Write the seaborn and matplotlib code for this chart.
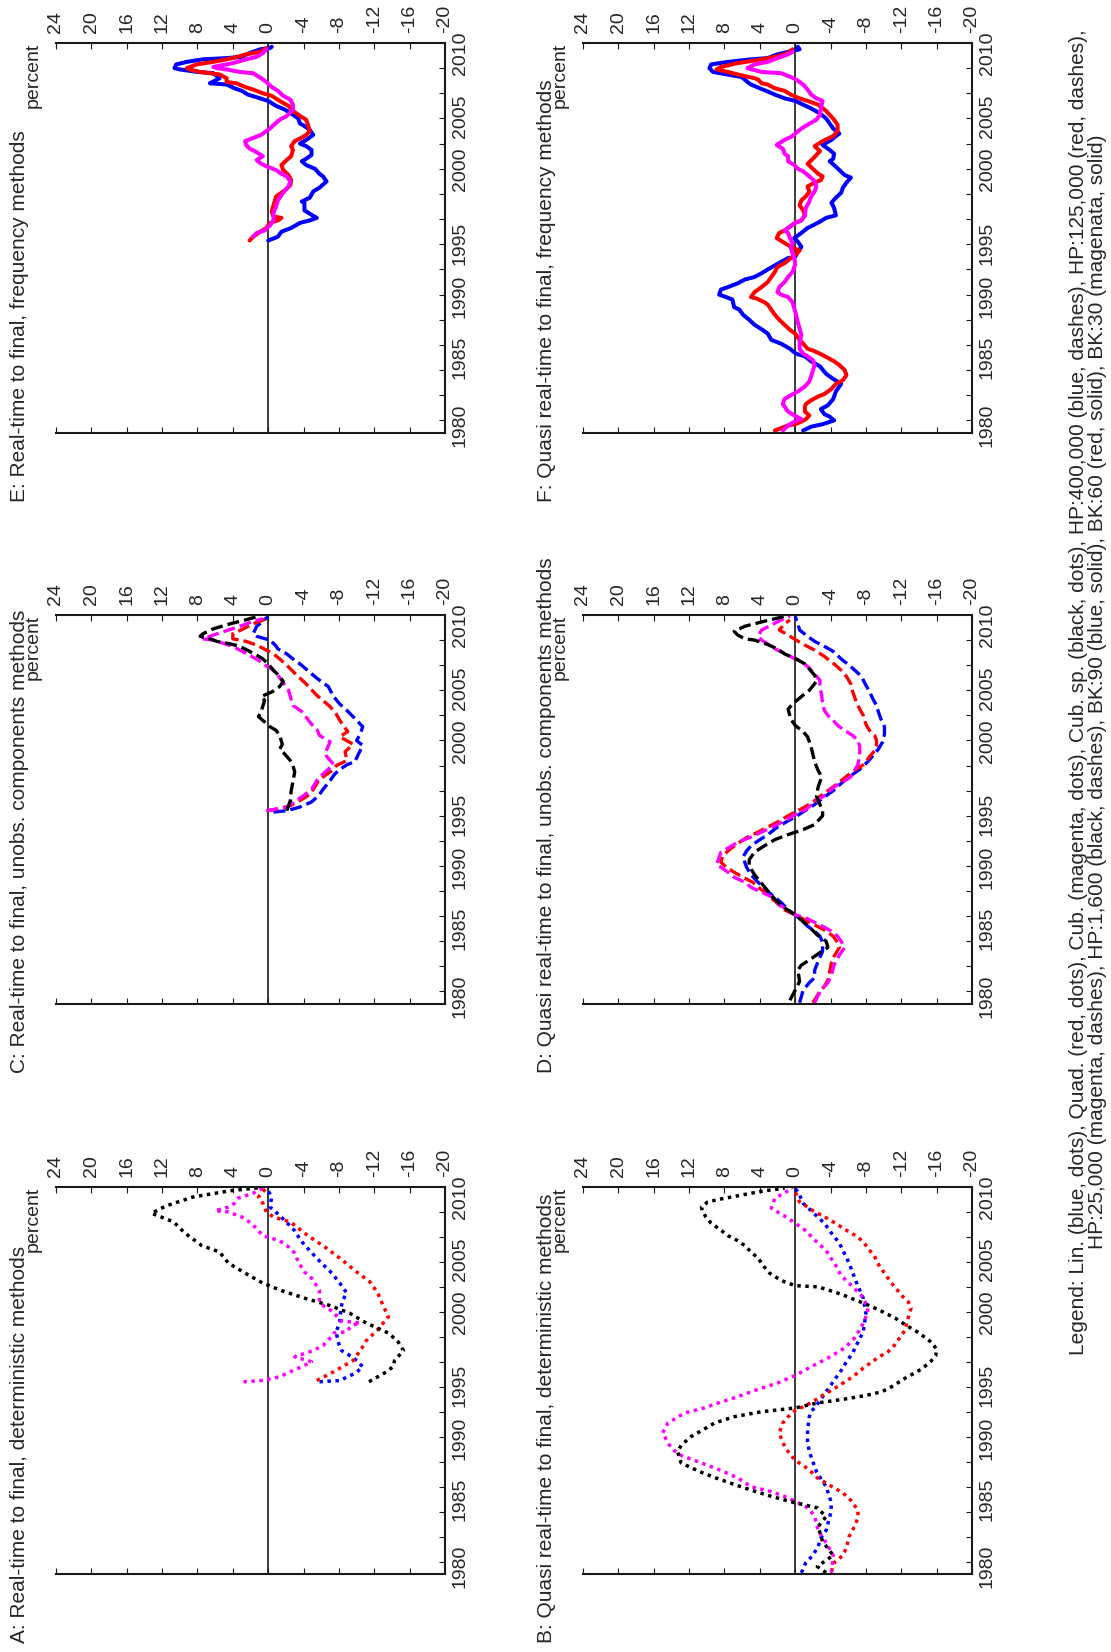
import numpy as np
import pandas as pd
import seaborn as sns
import matplotlib.pyplot as plt

# ---- data: time coordinate (years) and percent deviation ----
# A: real-time to final, deterministic
a_lin_t = [1994.4, 1994.5, 1995.1, 1995.6, 1996.3, 1996.9, 1997.6, 1998.4, 1999.2, 2000.1, 2000.9, 2001.5, 2002.3, 2003.1, 2004.0, 2004.9, 2005.7, 2006.5, 2007.3, 2007.9, 2008.4, 2009.2, 2009.7]
a_lin_v = [-5.8, -8.1, -9.9, -10.7, -9.7, -8.3, -7.9, -7.7, -8.1, -8.2, -8.4, -8.9, -8.1, -7.2, -5.9, -4.7, -3.7, -3.0, -1.9, -1.0, -0.2, -0.4, 0.0]
a_quad_t = [1994.5, 1995.2, 1996.1, 1997.1, 1997.7, 1998.5, 1999.6, 2000.5, 2001.5, 2002.4, 2003.2, 2004.3, 2005.2, 2006.1, 2007.2, 2007.6, 2008.0, 2008.7, 2009.2, 2009.95]
a_quad_v = [-5.5, -7.4, -9.6, -10.6, -11.1, -12.3, -13.6, -13.0, -12.4, -11.5, -10.0, -8.1, -6.4, -4.5, -2.5, -0.6, 0.2, 0.6, 1.1, 0.2]
a_cub_t = [1994.4, 1994.5, 1994.8, 1995.2, 1995.6, 1996.0, 1996.4, 1996.9, 1997.3, 1997.9, 1998.3, 1998.4, 1998.9, 1999.1, 1999.3, 1999.7, 2000.0, 2000.4, 2000.8, 2001.7, 2002.3, 2002.7, 2003.2, 2004.0, 2004.7, 2005.2, 2005.7, 2006.1, 2006.5, 2007.1, 2007.6, 2008.0, 2008.1, 2008.4, 2008.7, 2009.1, 2009.5, 2009.9]
a_cub_v = [2.8, 0.6, -1.3, -2.5, -3.8, -4.9, -3.0, -5.1, -6.2, -7.0, -7.4, -8.9, -9.4, -10.4, -8.1, -7.7, -7.4, -6.4, -5.8, -5.8, -5.3, -4.9, -4.1, -3.4, -3.0, -2.3, -1.3, 0.6, 1.1, 1.9, 3.0, 4.5, 6.0, 4.5, 3.8, 3.4, 1.7, 0.6]
a_cubsp_t = [1994.4, 1994.8, 1995.2, 1995.6, 1996.1, 1996.9, 1997.6, 1998.3, 1999.1, 1999.9, 2000.5, 2001.1, 2001.7, 2002.3, 2003.1, 2003.9, 2004.8, 2005.3, 2006.3, 2007.2, 2007.9, 2008.5, 2009.2, 2009.7, 2009.95]
a_cubsp_v = [-11.4, -12.4, -13.4, -14.1, -14.3, -15.3, -14.7, -13.6, -11.1, -9.2, -7.0, -4.1, -1.5, 0.6, 2.6, 4.5, 5.5, 7.5, 9.4, 10.7, 13.2, 11.5, 8.5, 4.3, 0.9]

# B: quasi real-time to final, deterministic
b_lin_t = [1979.1, 1979.9, 1980.5, 1981.2, 1981.9, 1982.5, 1984.1, 1984.9, 1986.0, 1987.2, 1988.0, 1988.8, 1989.6, 1990.5, 1991.6, 1992.0, 1992.5, 1993.2, 1994.0, 1994.7, 1995.3, 1996.0, 1996.7, 1997.3, 1998.4, 1999.9, 2001.1, 2002.4, 2003.9, 2005.5, 2006.4, 2007.1, 2007.7, 2008.1, 2008.7, 2009.5, 2009.9]
b_lin_v = [-0.7, -1.2, -2.0, -2.6, -2.9, -3.5, -4.1, -4.0, -3.5, -2.4, -2.0, -1.6, -1.4, -1.4, -1.6, -1.8, -2.4, -3.1, -3.9, -4.6, -5.2, -5.8, -6.5, -6.9, -7.7, -8.0, -7.7, -6.9, -6.1, -5.0, -4.0, -3.3, -2.4, -1.8, -0.9, -0.4, 0.0]
b_quad_t = [1979.2, 1979.9, 1980.5, 1981.1, 1982.0, 1982.8, 1983.5, 1984.1, 1984.9, 1985.5, 1985.9, 1986.7, 1987.2, 1987.7, 1988.1, 1988.8, 1989.5, 1990.3, 1991.1, 1991.6, 1992.1, 1992.5, 1992.9, 1993.3, 1994.1, 1994.9, 1995.5, 1996.4, 1996.8, 1997.3, 1997.9, 1998.5, 1999.3, 2000.3, 2000.8, 2001.2, 2001.7, 2002.3, 2003.1, 2003.7, 2004.4, 2005.5, 2006.0, 2006.4, 2006.8, 2007.2, 2007.7, 2008.0, 2008.4, 2008.8, 2009.6, 2009.9]
b_quad_v = [-4.1, -4.4, -5.4, -5.8, -6.1, -6.7, -7.1, -7.1, -6.3, -5.4, -4.4, -2.5, -1.8, -0.9, 0.0, 0.8, 1.4, 1.8, 1.4, 0.8, 0.0, -1.2, -2.2, -3.1, -5.0, -6.7, -7.7, -9.5, -10.5, -11.2, -11.8, -12.4, -12.7, -13.1, -12.8, -12.2, -11.6, -10.9, -10.1, -9.5, -9.0, -7.8, -7.1, -6.1, -5.2, -4.3, -3.1, -2.2, -1.4, -0.5, 0.0, 0.3]
b_cub_t = [1979.1, 1980.5, 1981.6, 1982.5, 1983.6, 1984.0, 1984.4, 1985.1, 1985.6, 1986.0, 1986.7, 1987.3, 1988.0, 1988.5, 1988.9, 1989.3, 1990.3, 1991.1, 1991.9, 1992.3, 1992.7, 1993.2, 1993.7, 1994.3, 1994.9, 1995.6, 1996.3, 1997.1, 1997.9, 1998.8, 1999.9, 2000.4, 2001.3, 2002.3, 2002.9, 2003.7, 2004.9, 2005.9, 2006.5, 2007.5, 2008.3, 2009.1, 2009.7]
b_cub_v = [-4.1, -4.3, -3.4, -2.6, -2.2, -1.8, -1.2, 0.8, 2.7, 5.0, 6.5, 8.4, 11.0, 12.9, 13.7, 14.2, 15.0, 14.4, 12.5, 10.3, 8.7, 6.5, 4.6, 2.0, 0.0, -1.8, -3.7, -5.6, -6.7, -7.5, -8.2, -8.2, -7.5, -6.1, -5.2, -4.6, -3.5, -2.0, -1.2, 0.8, 2.7, 2.3, 0.8]
b_cubsp_t = [1979.1, 1979.6, 1980.5, 1981.6, 1982.8, 1983.6, 1984.3, 1984.7, 1985.2, 1985.7, 1986.2, 1986.7, 1987.2, 1987.6, 1987.9, 1988.8, 1989.3, 1990.0, 1990.4, 1991.1, 1991.6, 1992.0, 1992.3, 1992.7, 1993.0, 1993.3, 1993.6, 1994.0, 1994.4, 1994.8, 1995.2, 1995.6, 1996.0, 1996.5, 1997.0, 1997.5, 1997.9, 1998.4, 1998.9, 1999.5, 2000.0, 2000.5, 2000.9, 2001.3, 2001.6, 2002.0, 2002.1, 2002.4, 2002.7, 2003.1, 2003.6, 2004.3, 2004.8, 2005.3, 2005.7, 2006.1, 2006.7, 2007.1, 2007.6, 2008.1, 2008.4, 2008.8, 2009.0, 2009.2, 2009.5, 2009.7, 2009.9]
b_cubsp_v = [-3.5, -2.5, -4.3, -3.1, -2.6, -3.5, -2.5, 0.0, 2.6, 4.9, 7.0, 9.0, 10.8, 12.0, 12.9, 13.3, 12.9, 11.8, 10.8, 9.1, 6.9, 3.8, 0.0, -2.5, -5.5, -8.0, -9.8, -10.9, -11.8, -12.7, -13.8, -14.6, -15.3, -15.9, -16.0, -15.5, -14.8, -13.8, -12.6, -11.3, -9.9, -8.4, -7.0, -5.6, -4.4, -2.6, 0.0, 1.2, 2.0, 2.9, 3.5, 4.2, 5.0, 5.7, 6.5, 7.6, 8.7, 9.5, 10.1, 10.5, 10.6, 9.9, 8.7, 7.2, 5.0, 3.4, 1.2]

# C: real-time to final, unobserved components (HP)
c_hp400_t = [1994.3, 1994.4, 1994.7, 1995.1, 1995.6, 1996.1, 1996.8, 1997.3, 1997.7, 1998.1, 1998.3, 1998.9, 1999.6, 2000.0, 2000.5, 2001.1, 2001.9, 2002.4, 2002.9, 2003.5, 2004.3, 2004.8, 2005.2, 2006.1, 2006.5, 2006.9, 2007.3, 2007.6, 2008.0, 2008.3, 2008.5, 2009.1, 2009.5, 2009.9]
c_hp400_v = [-0.6, -2.1, -3.6, -4.9, -5.7, -6.2, -7.0, -7.5, -8.1, -9.0, -9.8, -10.2, -10.7, -10.0, -10.4, -10.7, -9.6, -8.9, -8.1, -7.4, -6.8, -5.8, -5.1, -3.6, -2.8, -2.1, -1.1, -0.8, -0.2, 1.3, 1.7, 1.3, 0.6, 0.0]
c_hp125_t = [1994.4, 1994.5, 1994.8, 1995.3, 1995.7, 1996.1, 1996.8, 1997.2, 1997.6, 1998.0, 1998.4, 1999.1, 1999.7, 2000.3, 2000.7, 2001.6, 2002.1, 2002.7, 2003.6, 2004.5, 2005.5, 2006.0, 2006.5, 2006.9, 2007.2, 2007.6, 2007.9, 2008.1, 2008.5, 2008.9, 2009.3, 2009.7]
c_hp125_v = [0.2, -0.9, -2.5, -3.8, -4.7, -5.1, -5.7, -6.4, -7.2, -7.7, -8.9, -8.7, -9.6, -8.1, -9.0, -8.1, -7.7, -7.0, -5.5, -4.3, -2.8, -2.1, -1.3, -0.6, 0.2, 1.3, 2.5, 4.0, 4.0, 2.8, 1.7, 0.2]
c_hp25_t = [1994.4, 1994.7, 1995.6, 1996.1, 1996.8, 1997.2, 1998.1, 1998.9, 1999.9, 2000.4, 2000.9, 2001.3, 2002.3, 2002.8, 2004.0, 2005.2, 2005.7, 2006.1, 2006.4, 2007.2, 2007.5, 2008.0, 2008.1, 2008.5, 2009.1, 2009.5, 2009.7]
c_hp25_v = [0.2, -2.1, -4.0, -4.9, -5.5, -6.0, -7.4, -6.4, -7.0, -5.8, -5.5, -4.9, -3.8, -2.8, -2.3, -1.1, -0.4, 0.6, 1.1, 3.2, 4.0, 6.2, 7.4, 5.8, 3.2, 1.7, 0.6]
c_hp1600_t = [1994.4, 1995.2, 1996.0, 1996.7, 1997.5, 1998.0, 1998.4, 1998.9, 1999.3, 1999.7, 2000.4, 2000.8, 2001.1, 2001.6, 2001.9, 2002.3, 2003.2, 2003.5, 2003.9, 2004.3, 2004.7, 2005.1, 2005.6, 2006.1, 2006.5, 2006.8, 2007.1, 2007.5, 2007.7, 2007.9, 2008.1, 2008.3, 2008.5, 2008.9, 2009.3, 2009.6, 2009.9]
c_hp1600_v = [-2.1, -2.5, -2.6, -2.8, -3.0, -2.8, -2.5, -1.9, -1.3, -1.6, -1.3, -0.9, -0.2, 0.6, 1.1, 0.8, 0.4, 0.8, -0.5, -1.3, -1.7, -1.3, -0.6, 0.0, 0.6, 1.3, 2.1, 3.2, 4.3, 5.8, 6.6, 7.7, 7.4, 6.2, 4.3, 2.6, 1.1]

# D: quasi real-time to final, unobserved components (HP)
d_hp400_t = [1979.1, 1980.1, 1980.7, 1981.1, 1981.7, 1982.4, 1983.2, 1983.9, 1984.4, 1984.8, 1985.2, 1985.7, 1986.1, 1986.5, 1987.1, 1987.6, 1988.1, 1988.7, 1989.3, 1989.9, 1990.7, 1991.2, 1991.6, 1992.0, 1992.5, 1993.1, 1993.6, 1993.9, 1994.4, 1994.9, 1995.5, 1996.0, 1996.7, 1997.2, 1997.7, 1998.3, 1998.8, 1999.3, 1999.9, 2000.5, 2001.1, 2001.7, 2002.3, 2002.8, 2003.3, 2003.9, 2004.4, 2005.1, 2005.5, 2006.0, 2006.5, 2007.1, 2007.5, 2007.9, 2008.3, 2008.8, 2009.3, 2009.9]
d_hp400_v = [-0.5, -0.9, -1.6, -2.2, -2.2, -2.6, -3.1, -3.1, -2.8, -2.2, -1.4, -0.7, 0.0, 0.8, 1.6, 2.5, 3.3, 4.2, 5.0, 5.5, 5.9, 5.5, 5.0, 4.2, 3.1, 2.0, 0.8, 0.0, -1.1, -2.2, -3.3, -4.3, -5.4, -6.3, -7.3, -8.2, -8.8, -9.4, -9.9, -10.1, -10.1, -9.7, -9.4, -9.2, -8.8, -8.4, -8.0, -7.5, -6.9, -6.1, -5.2, -4.3, -3.3, -2.2, -1.4, -0.5, -0.3, 0.0]
d_hp125_t = [1979.1, 1980.0, 1980.4, 1980.9, 1981.6, 1982.3, 1982.8, 1983.5, 1983.9, 1984.4, 1984.9, 1985.3, 1985.7, 1986.1, 1986.5, 1987.2, 1987.7, 1988.1, 1988.7, 1989.1, 1989.5, 1989.9, 1990.3, 1990.8, 1991.2, 1991.7, 1992.3, 1992.7, 1993.1, 1993.5, 1994.0, 1994.3, 1994.7, 1995.2, 1995.7, 1996.3, 1996.8, 1997.3, 1997.7, 1998.1, 1998.7, 1999.2, 1999.6, 2000.0, 2000.4, 2000.8, 2001.3, 2002.0, 2002.5, 2003.1, 2003.9, 2004.5, 2005.1, 2005.6, 2006.1, 2006.7, 2007.2, 2007.6, 2008.0, 2008.4, 2008.8, 2009.3, 2009.6]
d_hp125_v = [-2.0, -2.8, -3.3, -3.7, -3.9, -4.1, -4.4, -5.0, -4.8, -4.3, -3.3, -2.2, -1.1, 0.0, 1.2, 2.3, 3.1, 3.8, 4.8, 5.9, 6.9, 7.8, 8.4, 8.2, 7.6, 6.7, 5.4, 4.2, 3.1, 2.0, 0.8, 0.0, -1.1, -2.2, -3.1, -4.3, -5.2, -6.1, -6.9, -7.8, -8.4, -9.0, -9.2, -9.2, -9.0, -8.4, -8.0, -7.7, -7.3, -6.9, -6.5, -6.3, -5.8, -5.2, -4.4, -3.3, -2.2, -1.1, -0.1, 0.8, 1.8, 1.2, 0.6]
d_hp25_t = [1979.1, 1980.1, 1980.7, 1981.3, 1982.1, 1982.9, 1983.5, 1984.0, 1984.4, 1984.8, 1985.2, 1985.5, 1985.9, 1986.1, 1986.5, 1986.9, 1987.5, 1987.9, 1988.3, 1988.7, 1989.1, 1989.5, 1989.9, 1990.1, 1990.5, 1991.1, 1991.5, 1991.9, 1992.3, 1992.7, 1993.2, 1993.6, 1994.1, 1994.5, 1995.1, 1995.6, 1996.3, 1996.7, 1997.1, 1997.6, 1998.1, 1998.8, 1999.5, 2000.0, 2000.4, 2000.8, 2001.2, 2001.6, 2002.0, 2002.4, 2002.9, 2003.6, 2004.3, 2004.8, 2005.3, 2005.9, 2006.3, 2006.5, 2006.8, 2007.2, 2007.6, 2008.0, 2008.3, 2008.8, 2009.2, 2009.6, 2009.9]
d_hp25_v = [-2.2, -2.9, -3.7, -4.1, -4.4, -5.0, -5.6, -5.2, -4.8, -4.1, -3.1, -2.2, -1.1, 0.0, 0.8, 1.8, 2.5, 3.8, 5.0, 5.7, 6.9, 7.6, 8.4, 8.9, 8.7, 8.4, 7.4, 6.5, 5.0, 3.8, 2.3, 1.2, 0.0, -1.2, -2.2, -3.3, -4.4, -5.4, -6.3, -6.7, -7.1, -7.3, -7.3, -7.1, -6.5, -5.6, -4.8, -4.3, -3.7, -3.3, -3.1, -3.0, -2.8, -2.8, -2.2, -1.4, -0.7, 0.0, 0.8, 2.0, 2.9, 3.8, 4.2, 3.8, 2.7, 1.6, 0.6]
d_hp1600_t = [1979.3, 1980.1, 1980.8, 1981.7, 1982.1, 1982.5, 1983.1, 1983.5, 1984.0, 1984.5, 1985.2, 1986.1, 1986.8, 1987.5, 1988.1, 1988.7, 1989.3, 1990.0, 1990.5, 1991.1, 1991.6, 1992.1, 1992.5, 1992.9, 1993.3, 1994.0, 1994.4, 1994.9, 1995.6, 1996.3, 1997.1, 1997.6, 1998.3, 1998.9, 1999.5, 2000.3, 2000.7, 2001.2, 2001.7, 2002.5, 2002.9, 2003.5, 2004.0, 2004.7, 2005.2, 2006.1, 2006.5, 2006.9, 2007.3, 2007.7, 2008.0, 2008.1, 2008.4, 2008.7, 2009.1, 2009.3, 2009.5, 2009.7, 2009.9]
d_hp1600_v = [0.6, 0.0, -0.5, -0.3, -0.7, -1.6, -2.8, -3.7, -3.5, -2.5, -1.5, 0.0, 1.5, 2.5, 3.2, 3.9, 4.6, 5.2, 5.2, 4.6, 3.5, 2.3, 0.8, -0.9, -2.2, -3.1, -3.1, -2.8, -2.4, -2.6, -3.0, -2.6, -2.2, -2.0, -1.8, -1.4, -0.9, 0.0, 0.5, 0.8, 0.3, -0.7, -1.6, -2.4, -2.2, -1.1, -0.1, 1.2, 2.0, 3.3, 4.6, 5.7, 6.5, 6.9, 5.7, 4.6, 3.5, 2.3, 1.2]

# E: real-time to final, frequency (BK)
e_bk90_t = [1994.3, 1994.6, 1995.0, 1995.3, 1995.7, 1995.9, 1996.1, 1996.3, 1996.7, 1997.3, 1997.4, 1997.7, 1998.2, 1998.5, 1999.0, 1999.4, 1999.6, 2000.0, 2000.3, 2000.6, 2000.8, 2001.1, 2001.5, 2001.8, 2002.0, 2002.3, 2002.7, 2003.1, 2003.4, 2003.6, 2004.0, 2004.3, 2004.7, 2005.0, 2005.4, 2005.6, 2005.9, 2006.2, 2006.4, 2006.7, 2006.8, 2007.2, 2007.6, 2007.7, 2007.9, 2008.0, 2008.3, 2008.5, 2008.7, 2008.8, 2008.9, 2009.2, 2009.5, 2009.6, 2009.7]
e_bk90_v = [0.0, -1.1, -1.5, -2.6, -3.6, -4.7, -5.5, -5.0, -4.1, -4.1, -3.8, -4.7, -5.1, -5.8, -6.6, -6.2, -5.8, -5.3, -4.3, -3.8, -4.3, -4.9, -4.9, -4.3, -3.6, -4.3, -5.1, -4.7, -4.1, -3.6, -3.4, -2.8, -1.9, -0.9, 0.0, 0.9, 2.3, 3.0, 3.8, 4.7, 6.6, 5.5, 6.2, 8.0, 10.0, 10.6, 10.4, 9.2, 7.4, 4.7, 3.0, 2.1, 0.9, -0.2, -0.4]
e_bk60_t = [1994.3, 1994.6, 1995.0, 1995.3, 1995.7, 1995.9, 1996.1, 1996.2, 1996.6, 1997.1, 1997.8, 1998.1, 1998.3, 1998.7, 1999.1, 1999.5, 1999.9, 2000.3, 2000.7, 2001.0, 2001.5, 2001.8, 2002.2, 2002.4, 2002.7, 2003.0, 2003.5, 2003.9, 2004.2, 2004.6, 2005.0, 2005.4, 2005.8, 2006.0, 2006.3, 2006.5, 2006.8, 2006.9, 2007.2, 2007.5, 2007.6, 2007.7, 2007.9, 2008.0, 2008.3, 2008.5, 2008.8, 2009.1, 2009.3, 2009.6]
e_bk60_v = [2.1, 1.7, 0.9, 0.2, -0.2, -1.1, -1.5, -0.6, -0.4, -0.6, -0.9, -1.5, -1.9, -2.5, -2.6, -2.3, -1.7, -1.5, -2.1, -2.6, -2.8, -2.6, -3.0, -3.6, -4.3, -4.7, -4.5, -4.3, -3.6, -2.8, -2.3, -1.3, -0.4, 0.6, 1.7, 2.6, 3.6, 4.7, 4.7, 5.5, 6.6, 7.7, 8.9, 9.2, 8.1, 6.2, 4.0, 2.5, 0.9, 0.2]
e_bk30_t = [1994.6, 1994.9, 1995.1, 1995.5, 1995.9, 1996.5, 1997.0, 1997.5, 1998.1, 1998.6, 1999.0, 1999.4, 1999.6, 1999.9, 2000.2, 2000.4, 2000.7, 2001.0, 2001.4, 2001.6, 2001.9, 2002.2, 2002.4, 2002.7, 2003.0, 2003.2, 2003.6, 2003.9, 2004.2, 2004.7, 2005.1, 2005.5, 2005.8, 2006.2, 2006.5, 2006.9, 2007.2, 2007.6, 2007.7, 2007.9, 2008.0, 2008.1, 2008.4, 2008.7, 2008.9, 2009.2, 2009.5]
e_bk30_v = [1.7, 1.3, 0.4, -0.2, -0.6, -0.6, -0.9, -1.1, -1.7, -2.3, -2.5, -2.1, -1.5, -0.9, 0.2, 0.8, 1.3, 0.6, 1.5, 2.1, 2.5, 2.6, 1.9, 0.8, 0.2, -0.2, -0.8, -1.3, -2.1, -2.8, -2.8, -2.5, -1.7, -1.1, -0.4, 0.2, 0.8, 1.7, 3.2, 4.7, 5.8, 6.2, 4.0, 2.5, 1.3, 0.6, 0.2]

# F: quasi real-time to final, frequency (BK)
f_bk90_t = [1979.2, 1979.5, 1979.7, 1980.0, 1980.3, 1980.5, 1980.9, 1981.2, 1981.7, 1982.3, 1982.9, 1983.3, 1983.7, 1984.3, 1984.7, 1985.1, 1985.3, 1985.7, 1986.1, 1986.4, 1986.9, 1987.2, 1987.6, 1988.0, 1988.4, 1988.8, 1989.0, 1989.6, 1989.8, 1990.0, 1990.4, 1990.6, 1990.9, 1991.2, 1991.4, 1991.7, 1992.0, 1992.4, 1992.6, 1992.9, 1993.0, 1993.4, 1993.8, 1994.2, 1994.5, 1994.9, 1995.3, 1995.5, 1995.8, 1996.1, 1996.3, 1996.9, 1997.3, 1997.7, 1998.1, 1998.5, 1998.9, 1999.3, 1999.5, 1999.9, 2000.3, 2000.6, 2000.8, 2001.2, 2001.5, 2001.9, 2002.3, 2002.6, 2002.8, 2003.2, 2003.6, 2004.0, 2004.4, 2004.8, 2005.1, 2005.4, 2005.6, 2005.9, 2006.2, 2006.4, 2006.7, 2006.9, 2007.1, 2007.3, 2007.7, 2008.0, 2008.3, 2008.5, 2008.7, 2008.8, 2009.1, 2009.3, 2009.5, 2009.7]
f_bk90_v = [-0.9, -1.8, -3.1, -4.4, -3.9, -3.3, -2.9, -3.7, -4.3, -4.6, -5.2, -4.3, -3.5, -2.8, -1.8, -1.1, -0.1, 0.6, 1.6, 2.7, 3.1, 3.7, 4.6, 5.2, 5.9, 6.3, 6.9, 7.1, 7.8, 8.6, 8.4, 7.6, 6.5, 5.7, 4.6, 3.8, 3.1, 2.1, 1.6, 0.8, 0.0, -0.3, -0.7, -0.3, 0.1, -0.7, -1.4, -2.0, -2.8, -3.5, -4.6, -4.4, -4.1, -4.6, -5.2, -5.4, -5.8, -6.3, -5.6, -5.0, -4.4, -3.9, -4.3, -4.4, -3.9, -3.1, -4.1, -4.6, -5.0, -4.3, -3.9, -3.5, -2.8, -1.8, -0.9, 0.0, 1.2, 2.3, 3.3, 4.0, 5.0, 5.4, 5.7, 6.1, 9.3, 9.7, 9.5, 7.6, 5.0, 3.1, 2.0, 0.8, -0.5, -0.3]
f_bk60_t = [1979.2, 1979.6, 1979.7, 1979.9, 1980.1, 1980.4, 1980.7, 1981.1, 1981.3, 1981.6, 1981.9, 1982.1, 1982.5, 1982.9, 1983.2, 1983.6, 1984.0, 1984.4, 1984.7, 1984.9, 1985.2, 1985.5, 1985.7, 1986.1, 1986.4, 1986.9, 1987.2, 1987.6, 1988.0, 1988.4, 1988.8, 1989.2, 1989.4, 1989.7, 1989.8, 1990.2, 1990.6, 1991.0, 1991.4, 1991.8, 1992.2, 1992.5, 1992.9, 1993.1, 1993.5, 1993.8, 1994.1, 1994.5, 1994.9, 1995.1, 1995.4, 1995.7, 1995.9, 1996.3, 1996.7, 1997.1, 1997.5, 1997.8, 1998.2, 1998.6, 1998.9, 1999.1, 1999.4, 1999.6, 2000.0, 2000.4, 2000.8, 2001.1, 2001.4, 2001.8, 2002.2, 2002.6, 2003.0, 2003.5, 2003.9, 2004.6, 2005.1, 2005.4, 2005.6, 2005.9, 2006.2, 2006.4, 2006.7, 2006.8, 2007.1, 2007.2, 2007.5, 2007.7, 2007.9, 2008.1, 2008.4, 2008.7, 2008.9, 2009.2, 2009.5]
f_bk60_v = [2.3, 0.8, 0.0, -0.7, -1.2, -1.6, -1.1, -1.1, -1.2, -1.8, -2.6, -3.3, -4.1, -4.6, -5.4, -5.8, -5.6, -5.0, -4.4, -3.9, -3.1, -2.2, -1.4, -0.9, -0.5, 0.0, 0.6, 1.2, 1.8, 2.3, 2.7, 3.1, 3.5, 4.4, 5.0, 4.6, 3.8, 3.1, 2.7, 2.3, 2.0, 1.2, 0.5, 0.1, -0.5, 0.5, 1.2, 2.1, 1.8, 1.2, 0.6, 0.0, -0.7, -1.1, -0.9, -0.5, -0.7, -1.2, -1.6, -1.4, -2.2, -2.9, -3.1, -2.6, -2.0, -1.4, -2.0, -2.4, -2.8, -2.2, -3.1, -4.3, -4.8, -4.8, -4.4, -3.5, -2.6, -1.4, -0.5, 0.5, 1.2, 2.3, 3.1, 3.8, 4.2, 4.6, 6.5, 7.6, 8.9, 8.4, 6.5, 3.8, 2.3, 0.8, 0.3]
f_bk30_t = [1979.2, 1979.6, 1979.9, 1980.1, 1980.4, 1980.7, 1981.3, 1981.7, 1982.0, 1982.3, 1982.7, 1983.1, 1983.5, 1984.4, 1984.8, 1985.1, 1985.3, 1985.7, 1986.2, 1986.8, 1987.3, 1987.8, 1988.4, 1988.9, 1989.4, 1989.8, 1990.0, 1990.2, 1990.6, 1991.0, 1991.4, 1991.8, 1992.4, 1992.9, 1993.7, 1994.1, 1994.5, 1994.9, 1995.1, 1995.4, 1995.7, 1995.9, 1996.3, 1996.9, 1997.4, 1997.8, 1998.2, 1998.6, 1999.0, 1999.4, 1999.8, 2000.0, 2000.3, 2000.6, 2001.0, 2001.2, 2001.6, 2001.9, 2002.3, 2002.6, 2002.8, 2003.2, 2003.5, 2003.9, 2004.3, 2004.8, 2005.4, 2005.6, 2005.9, 2006.3, 2006.7, 2007.1, 2007.3, 2007.6, 2007.7, 2008.0, 2008.3, 2008.5, 2008.8, 2009.1, 2009.3]
f_bk30_v = [1.4, 0.8, 0.1, -0.7, 0.1, 0.8, 1.4, 1.2, 0.5, -0.3, -1.1, -1.6, -1.8, -2.2, -2.0, -1.4, -0.9, -0.5, -0.5, -0.7, -0.5, -0.3, -0.1, 0.1, 0.3, 0.8, 1.6, 2.0, 1.8, 1.2, 0.8, 0.3, 0.0, 0.1, 0.5, 0.3, 0.6, 0.8, 1.2, 0.6, 0.0, -0.7, -1.1, -1.2, -1.6, -1.8, -2.2, -2.4, -2.2, -1.6, -0.9, -0.3, 0.1, 0.8, 0.8, 1.2, 1.4, 2.1, 1.2, 0.3, 0.0, -0.7, -1.4, -2.4, -2.8, -2.9, -3.1, -2.4, -1.8, -1.4, -0.9, -0.1, 0.5, 1.6, 3.8, 5.4, 4.6, 3.1, 2.0, 0.8, 0.3]

pct_ticks = list(range(24, -21, -4))
year_ticks = list(range(1980, 2010, 2))
year_labels = ['1980', '1985', '1990', '1995', '2000', '2005', '2010']
year_label_pos = [1979.6, 1985.0, 1989.85, 1994.1, 1999.95, 2004.2, 2009.2]

legend_text = ("Legend: Lin. (blue, dots), Quad. (red, dots), Cub. (magenta, dots), Cub. sp. (black, dots), "
               "HP:400,000 (blue, dashes), HP:125,000 (red, dashes),\n"
               "HP:25,000 (magenta, dashes), HP:1,600 (black, dashes), BK:90 (blue, solid), "
               "BK:60 (red, solid), BK:30 (magenata, solid)")

#%%
sns.set_theme(style="white")
plt.rcParams['font.family'] = ['Liberation Sans', 'DejaVu Sans']
plt.rcParams['axes.unicode_minus'] = False

W, H = 1111, 1652
fig = plt.figure(figsize=(W / 100, H / 100), dpi=100)

DOT = (0, (1, 1.3))
DASH = (0, (3.6, 1.5))
blue, red, mag, blk = '#0000ff', '#ff0000', '#ff00ff', '#000000'

panels = [
    ('A: Real-time to final, deterministic methods', 56, 1187, 387,
     [(a_lin_t, a_lin_v, blue, DOT), (a_quad_t, a_quad_v, red, DOT),
      (a_cub_t, a_cub_v, mag, DOT), (a_cubsp_t, a_cubsp_v, blk, DOT)]),
    ('B: Quasi real-time to final, deterministic methods', 583, 1187, 387,
     [(b_lin_t, b_lin_v, blue, DOT), (b_quad_t, b_quad_v, red, DOT),
      (b_cub_t, b_cub_v, mag, DOT), (b_cubsp_t, b_cubsp_v, blk, DOT)]),
    ('C: Real-time to final, unobs. components methods', 56, 615, 389,
     [(c_hp400_t, c_hp400_v, blue, DASH), (c_hp125_t, c_hp125_v, red, DASH),
      (c_hp25_t, c_hp25_v, mag, DASH), (c_hp1600_t, c_hp1600_v, blk, DASH)]),
    ('D: Quasi real-time to final, unobs. components methods', 583, 615, 389,
     [(d_hp400_t, d_hp400_v, blue, DASH), (d_hp125_t, d_hp125_v, red, DASH),
      (d_hp25_t, d_hp25_v, mag, DASH), (d_hp1600_t, d_hp1600_v, blk, DASH)]),
    ('E: Real-time to final, frequency methods', 56, 43, 390,
     [(e_bk90_t, e_bk90_v, blue, '-'), (e_bk60_t, e_bk60_v, red, '-'),
      (e_bk30_t, e_bk30_v, mag, '-')]),
    ('F: Quasi real-time to final, frequency methods', 583, 43, 390,
     [(f_bk90_t, f_bk90_v, blue, '-'), (f_bk60_t, f_bk60_v, red, '-'),
      (f_bk30_t, f_bk30_v, mag, '-')]),
]

for title, left, top, h, series in panels:
    ax = fig.add_axes([left / W, 1 - (top + h) / H, 389 / W, h / H])
    ax.axvline(0, color='k', lw=1.2, zorder=1)
    for t, v, c, ls in series:
        df = pd.DataFrame({'t': t, 'v': v})
        lw = 2.9 if ls == '-' else (2.4 if ls == DASH else 2.5)
        sns.lineplot(data=df, x='v', y='t', sort=False, estimator=None,
                     color=c, lw=lw, ax=ax, legend=False)
        ln = ax.get_lines()[-1]
        ln.set_linestyle(ls)
        ln.set_dash_capstyle('butt')
    ax.set_xlim(24, -20)
    ax.set_ylim(1979, 2010)
    ax.set_xlabel('')
    ax.set_ylabel('')
    ax.set_xticks(pct_ticks)
    ax.set_xticklabels([str(p) for p in pct_ticks])
    ax.tick_params(axis='x', which='major', top=True, bottom=True, labeltop=True,
                   labelbottom=False, direction='in', length=4.5, width=0.8,
                   pad=7, labelsize=14, labelrotation=90, color='k')
    ax.set_yticks(year_ticks)
    ax.set_yticklabels([])
    ax.tick_params(axis='y', which='major', right=True, left=False, labelright=False,
                   labelleft=False, direction='in', length=4.5, width=0.8, color='k')
    ax.set_yticks(year_label_pos, minor=True)
    ax.set_yticklabels(year_labels, minor=True)
    ax.tick_params(axis='y', which='minor', right=True, left=False, labelright=True,
                   labelleft=False, length=0, pad=5, labelsize=14, labelrotation=90)
    for lbl in ax.get_yticklabels(minor=True):
        lbl.set_va('center')
    ax.spines['left'].set_visible(False)
    for s in ['top', 'bottom', 'right']:
        ax.spines[s].set_color('k')
        ax.spines[s].set_linewidth(1.5)
    ax.grid(False)
    ax.text(-0.094, -0.178, title, transform=ax.transAxes, rotation=90,
            ha='center', va='bottom', fontsize=15)
    ax.text(-0.059, 1.0, 'percent', transform=ax.transAxes, rotation=90,
            ha='center', va='top', fontsize=14)

fig.text(1088 / W, 1 - 692 / H, legend_text, rotation=90, ha='center', va='center',
         multialignment='center', fontsize=15, linespacing=1.0)

fig.savefig('out.png', dpi=100)
